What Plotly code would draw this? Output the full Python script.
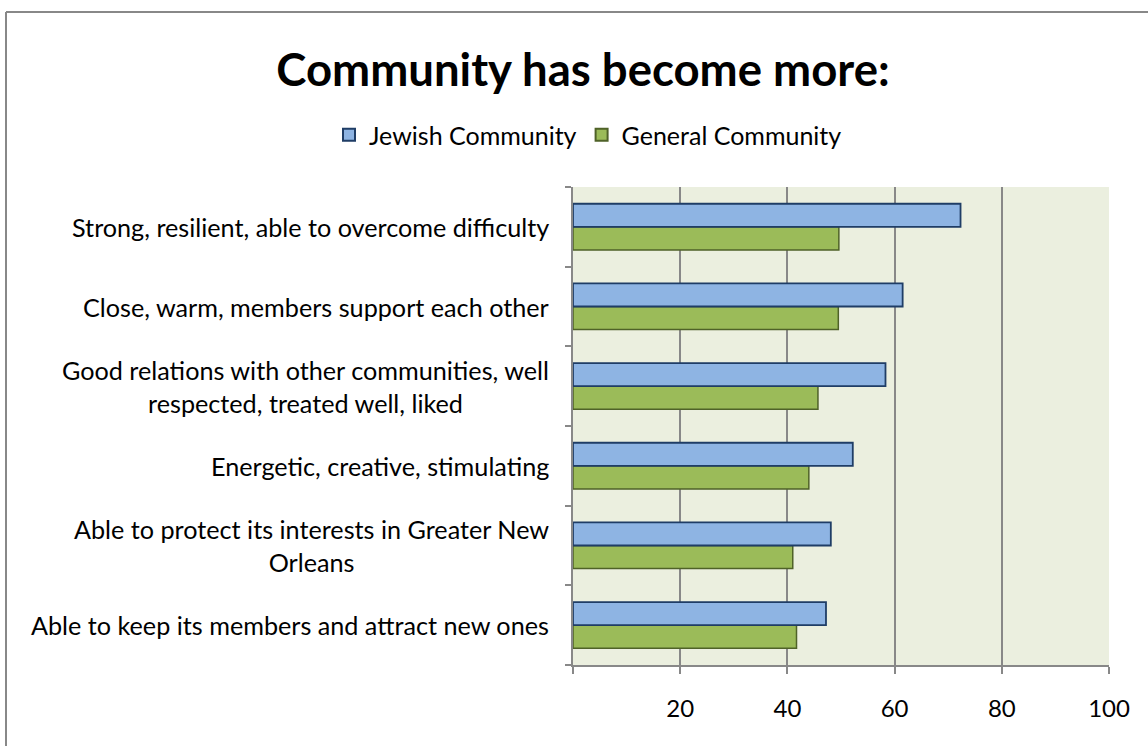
import plotly.graph_objects as go

# Survey categories, listed bottom to top as the y axis draws them
categories = [
    "Able to keep its members and attract new ones",
    "Able to protect its interests in Greater New<br>Orleans",
    "Energetic, creative, stimulating",
    "Good relations with other communities, well<br>respected, treated well, liked",
    "Close, warm, members support each other",
    "Strong, resilient, able to overcome difficulty",
]
jewish_community = [47.2, 48.1, 52.2, 58.3, 61.5, 72.3]
general_community = [41.7, 41.0, 44.0, 45.7, 49.5, 49.6]
x_tick_values = [0, 20, 40, 60, 80, 100]
x_tick_labels = ["", "20", "40", "60", "80", "100"]

FONT = "Lato"
W, H = 1148, 746
L, R, T, B = 573, 39, 187, 81

fig = go.Figure()
# General first so that Jewish sits on top within each group (horizontal bars)
fig.add_trace(go.Bar(
    y=categories, x=general_community, orientation="h",
    name="General Community",
    marker=dict(color="#9BBB59", line=dict(color="#4F6228", width=1.5)),
))
fig.add_trace(go.Bar(
    y=categories, x=jewish_community, orientation="h",
    name="Jewish Community",
    marker=dict(color="#8EB4E3", line=dict(color="#1F3D66", width=1.8)),
))

# Category labels drawn as centered multi-line text to the left of the axis
for cat in categories:
    fig.add_annotation(
        x=0, y=cat, xref="paper", yref="y", text=cat, showarrow=False,
        xanchor="right", yanchor="middle", align="center", xshift=-22,
        font=dict(family=FONT, size=25.2, color="#000000"),
    )

# Outer chart frame (top and left edges visible)
pw, ph = W - L - R, H - T - B
def px_x(v):
    return (v - L) / pw
def px_y(v):
    return (H - B - v) / ph
fig.add_shape(type="line", xref="paper", yref="paper",
              x0=px_x(6), x1=px_x(1160), y0=px_y(12), y1=px_y(12),
              line=dict(color="#888888", width=2))
fig.add_shape(type="line", xref="paper", yref="paper",
              x0=px_x(6), x1=px_x(6), y0=px_y(12), y1=px_y(760),
              line=dict(color="#888888", width=2))

fig.update_layout(
    width=W, height=H,
    margin=dict(l=L, r=R, t=T, b=B),
    paper_bgcolor="#FFFFFF",
    plot_bgcolor="#EBEFDF",
    barmode="group",
    bargap=0.42,
    bargroupgap=0,
    title=dict(
        text="<b>Community has become more:</b>",
        x=583 / W, xref="container", xanchor="center",
        y=1 - 70 / H, yref="container", yanchor="middle",
        font=dict(family=FONT, size=45.5, color="#000000"),
    ),
    legend=dict(
        orientation="h", traceorder="reversed",
        x=588 / W, xref="container", xanchor="center",
        y=1 - 135 / H, yref="container", yanchor="middle",
        font=dict(family=FONT, size=25, color="#000000"),
        itemsizing="constant", itemwidth=30,
        bgcolor="rgba(0,0,0,0)",
    ),
    xaxis=dict(
        range=[0, 100],
        tickvals=x_tick_values, ticktext=x_tick_labels,
        showgrid=True, gridcolor="#888888", gridwidth=1.5,
        zeroline=False,
        showline=True, linecolor="#888888", linewidth=2,
        ticks="outside", ticklen=7, tickcolor="#888888", tickwidth=2,
        tickfont=dict(family=FONT, size=24, color="#000000"),
        ticklabelstandoff=14,
    ),
    yaxis=dict(
        showticklabels=False,
        tickson="boundaries",
        ticks="outside", ticklen=6, tickcolor="#888888", tickwidth=2,
        showline=True, linecolor="#888888", linewidth=2,
        showgrid=False, zeroline=False,
    ),
    showlegend=True,
)

fig.write_html("out.html")
